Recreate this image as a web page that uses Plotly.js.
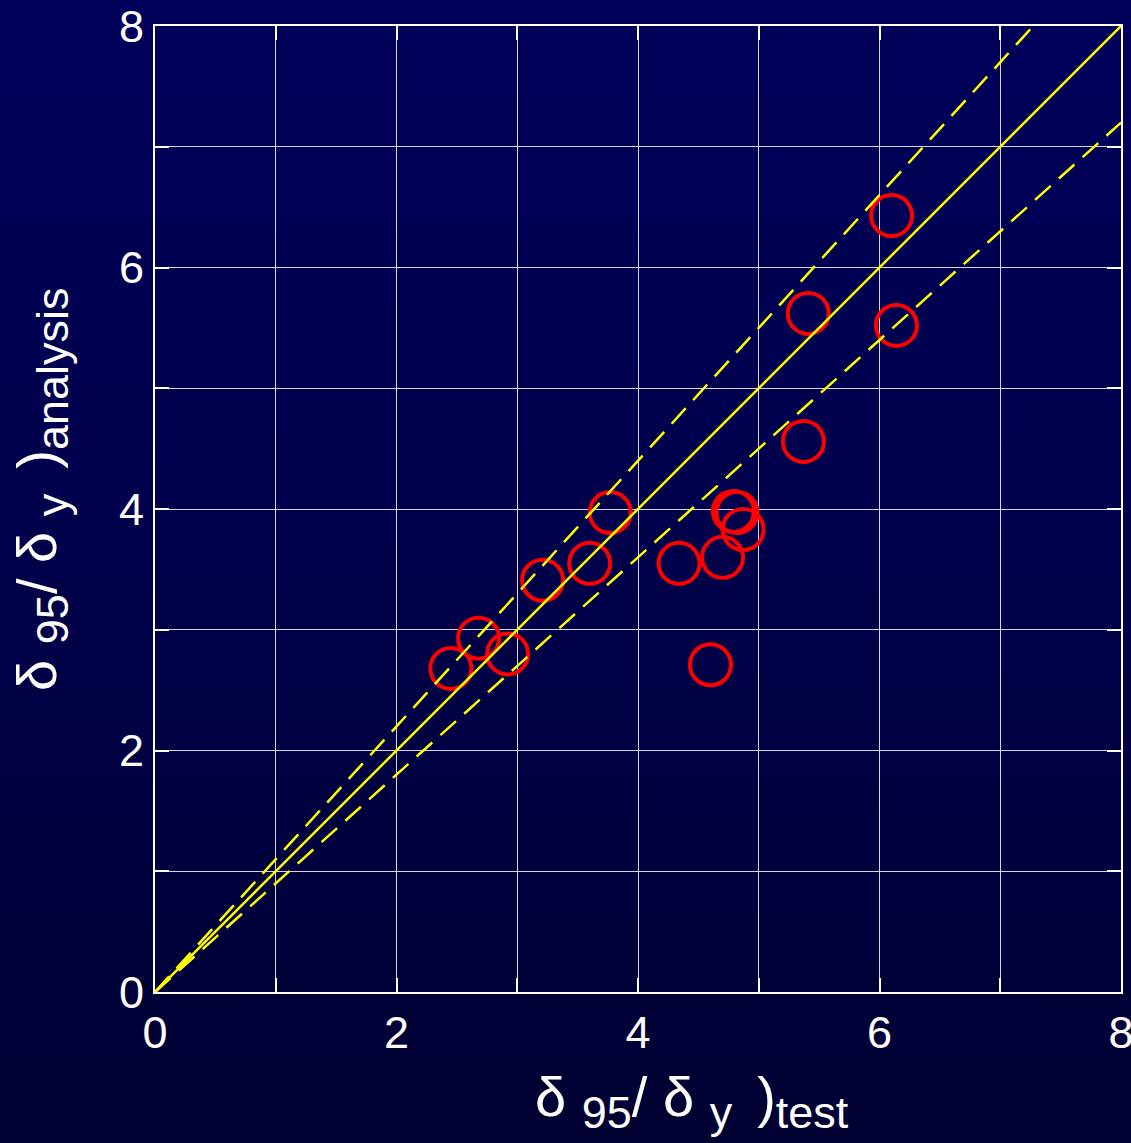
<!DOCTYPE html>
<html>
<head>
<meta charset="utf-8">
<script src="https://cdn.plot.ly/plotly-3.0.1.min.js"></script>
<style>
html, body { margin:0; padding:0; }
body { width:1131px; height:1143px; background: linear-gradient(to bottom, #00005a 0%, #00004a 50%, #000032 100%); }
#chart { width:1131px; height:1143px; }
</style>
</head>
<body>
<div id="chart"></div>
<script>
// Measured points: delta95/delta_y from test (x) vs analysis (y)
const testRatio = [2.45, 2.68, 2.92, 3.21, 3.60, 3.77, 4.34, 4.70, 4.79, 4.82, 4.87, 4.60, 6.10, 5.41, 6.14, 5.37];
const analysisRatio = [2.68, 2.93, 2.80, 3.41, 3.55, 3.97, 3.55, 3.60, 3.98, 3.97, 3.83, 2.71, 6.43, 5.62, 5.52, 4.56];

// Reference lines: y = x, y = 1.1x, y = 0.9x
const lineX = [0, 8];
const lineEqual = [0, 8];
const lineUpper = [0, 8.8];
const lineLower = [0, 7.2];

const tickVals = [0, 1, 2, 3, 4, 5, 6, 7, 8];
const tickText = ['0', '', '2', '', '4', '', '6', '', '8'];

const font = 'Liberation Sans, Arial, sans-serif';

const traces = [
  {x: testRatio, y: analysisRatio, mode: 'markers', type: 'scatter',
   marker: {symbol: 'circle-open', size: 41, color: '#ff0000', line: {width: 4, color: '#ff0000'}}},
  {x: lineX, y: lineEqual, mode: 'lines', type: 'scatter', line: {color: '#ffff00', width: 2.5}},
  {x: lineX, y: lineUpper, mode: 'lines', type: 'scatter', line: {color: '#ffff00', width: 2.5, dash: '21px,11px'}},
  {x: lineX, y: lineLower, mode: 'lines', type: 'scatter', line: {color: '#ffff00', width: 2.5, dash: '21px,11px'}}
];

const axisCommon = {
  range: [0, 8], tickmode: 'array', tickvals: tickVals, ticktext: tickText,
  showgrid: true, gridcolor: '#d4d4e4', gridwidth: 1,
  showline: true, linecolor: '#ffffff', linewidth: 2, mirror: 'ticks',
  ticks: 'inside', ticklen: 14, tickwidth: 2, tickcolor: '#ffffff',
  zeroline: false, fixedrange: true, ticklabeloverflow: 'allow',
  tickfont: {family: font, size: 45, color: '#ffffff'}
};

const sub = s => '<sub><span style="font-size:45px">' + s + '</span></sub>';

const layout = {
  width: 1131, height: 1143,
  margin: {l: 155, r: 10, t: 26, b: 151},
  paper_bgcolor: 'rgba(0,0,0,0)', plot_bgcolor: 'rgba(0,0,0,0)',
  showlegend: false,
  xaxis: Object.assign({}, axisCommon),
  yaxis: Object.assign({}, axisCommon),
  annotations: [
    {text: 'δ ' + sub('95') + '/ δ ' + sub('y&nbsp;&nbsp;') + ')' + sub('test'), xref: 'paper', yref: 'paper',
     x: 0.391, y: -0.074, xanchor: 'left', yanchor: 'top', showarrow: false,
     font: {family: font, size: 56, color: '#ffffff'}},
    {text: 'δ ' + sub('95') + '/ δ ' + sub('y&nbsp;&nbsp;') + ')' + sub('analysis'), xref: 'paper', yref: 'paper',
     x: -0.158, y: 0.31, xanchor: 'left', yanchor: 'bottom', textangle: -90, showarrow: false,
     font: {family: font, size: 56, color: '#ffffff'}}
  ]
};

Plotly.newPlot('chart', traces, layout, {staticPlot: true, displayModeBar: false});
</script>
</body>
</html>
